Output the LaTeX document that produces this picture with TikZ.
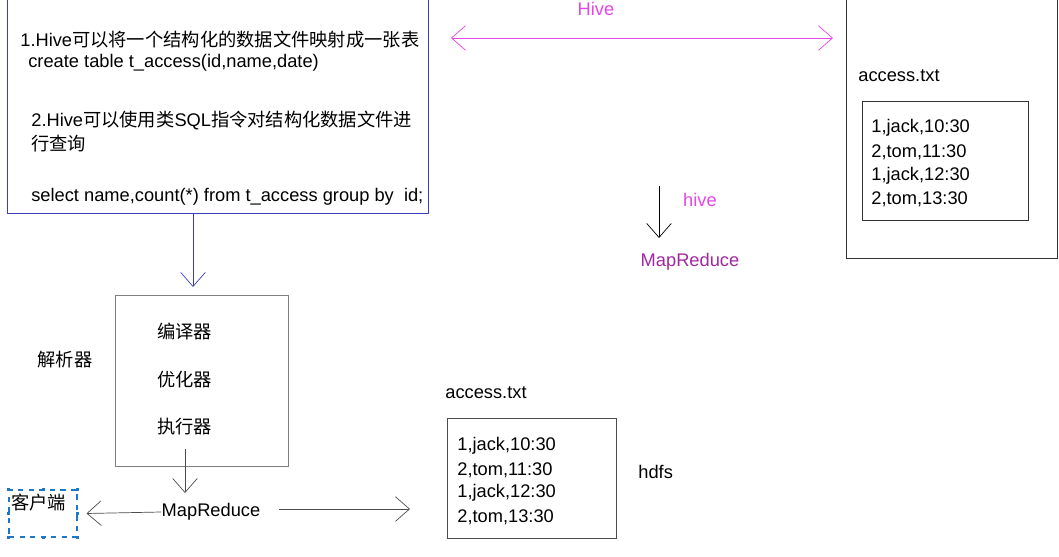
\documentclass[tikz,border=0pt]{standalone}
\usepackage{fontspec}
\setmainfont{Liberation Sans}
\newfontfamily\cjkfont{Noto Sans CJK SC}
\newcommand{\zh}[1]{{\cjkfont #1}}
\usepackage{xcolor}
\usetikzlibrary{arrows.meta}
\usetikzlibrary{calc}

\definecolor{boxblue}{RGB}{60,60,190}
\definecolor{hivepink}{RGB}{230,70,230}
\definecolor{mrpurple}{RGB}{160,40,160}
\definecolor{selblue}{RGB}{30,120,200}

\tikzset{
    txt/.style={inner sep=0pt,font=\fontsize{10.4pt}{12pt}\selectfont},
    lefttxt/.style={txt,anchor=west},
    barb/.style={-{Straight Barb[length=8pt,width=14pt]}},
}

\begin{document}
\begin{tikzpicture}[x=0.02cm,y=-0.02cm]
        \useasboundingbox (0,0) rectangle (1059,557);

        % top left box: what hive does
        \draw[boxblue] (7,-2) -- (7,213) -- (428,213) -- (428,-2);
        \node[lefttxt] (l1) at (20,40) {1.Hive\zh{可以将一个结构化的数据文件映射成一张表}};
        \node[lefttxt] (l2) at (28,63) {create table t\_access(id,name,date)};
        \node[lefttxt] (l3) at (31,120) {2.Hive\zh{可以使用类}SQL\zh{指令对结构化数据文件进}};
        \node[lefttxt] (l4) at (31,144) {\zh{行查询}};
        \node[lefttxt] (l5) at (31,197) {select name,count(*) from t\_access group by\ \ id;};
        \coordinate (qout) at (193,213);

        % parser box
        \draw[gray] (115,295) coordinate (p) rectangle (288,466);
        \node[lefttxt] (comp) at (157,332) {\zh{编译器}};
        \node[lefttxt] (opt) at (157,380) {\zh{优化器}};
        \node[lefttxt] (exe) at (157,427) {\zh{执行器}};
        \node[txt] (parser) at (65,360) {\zh{解析器}};
        \coordinate (pin) at (193,287);
        \coordinate (pout) at (185,449);

        \draw[boxblue,barb] (qout)--(pin);

        % bottom row
        \node[txt] (mr) at (211,512) {MapReduce};
        \node[draw=selblue,semithick,dashed,minimum width=68*0.02cm,minimum height=47*0.02cm] (client) at (43,513.5) {};
        \foreach \a in {north west,north,north east,east,south east,south,south west,west}
            \fill[selblue] ($(client.\a)+(-1.5,-1.5)$) rectangle +(3,3);
        \node[lefttxt] (clienttxt) at (11,503) {\zh{客户端}};
        \draw[black!70,barb] (pout)--(185,493);
        \draw[black!70,barb] (mr.west)--($(client.east)+(9,0)$);
        \draw[black!70,barb] ($(mr.east)+(18,-3)$)--(410,509);

        % file in hdfs
        \node[lefttxt] (hfile) at (445,393) {access.txt};
        \draw[black!70] (447,418) rectangle (616,538);
        \node[lefttxt] (h1) at (457,446) {1,jack,10:30};
        \node[lefttxt] (h2) at (457,470) {2,tom,11:30};
        \node[lefttxt] (h3) at (457,493) {1,jack,12:30};
        \node[lefttxt] (h4) at (457,517) {2,tom,13:30};
        \node[lefttxt] (hdfs) at (638,472) {hdfs};

        % mapping arrow on top
        \node[txt,text=hivepink] (hive) at (596,9) {Hive};
        \coordinate (ml) at (451,38);
        \coordinate (mr2) at (833,38);
        \draw[hivepink,{Straight Barb[length=8pt,width=14pt]}-{Straight Barb[length=8pt,width=14pt]}] (ml)--(mr2);

        % hive -> mapreduce
        \coordinate (ha) at (659,186);
        \coordinate (hb) at (659,238);
        \draw[black,barb] (ha)--(hb);
        \node[txt,text=hivepink] (hivelbl) at (700,200) {hive};
        \node[txt,text=mrpurple] (mrtop) at (690,262) {MapReduce};

        % file on the right
        \draw[black!80] (846,-2) -- (846,258) -- (1057,258) -- (1057,-2);
        \node[lefttxt] (rfile) at (858,76) {access.txt};
        \draw[black!80] (862,101) rectangle (1028,220);
        \node[lefttxt] (r1) at (871,128) {1,jack,10:30};
        \node[lefttxt] (r2) at (871,152) {2,tom,11:30};
        \node[lefttxt] (r3) at (871,176) {1,jack,12:30};
        \node[lefttxt] (r4) at (871,199) {2,tom,13:30};
    \end{tikzpicture}
\end{document}
